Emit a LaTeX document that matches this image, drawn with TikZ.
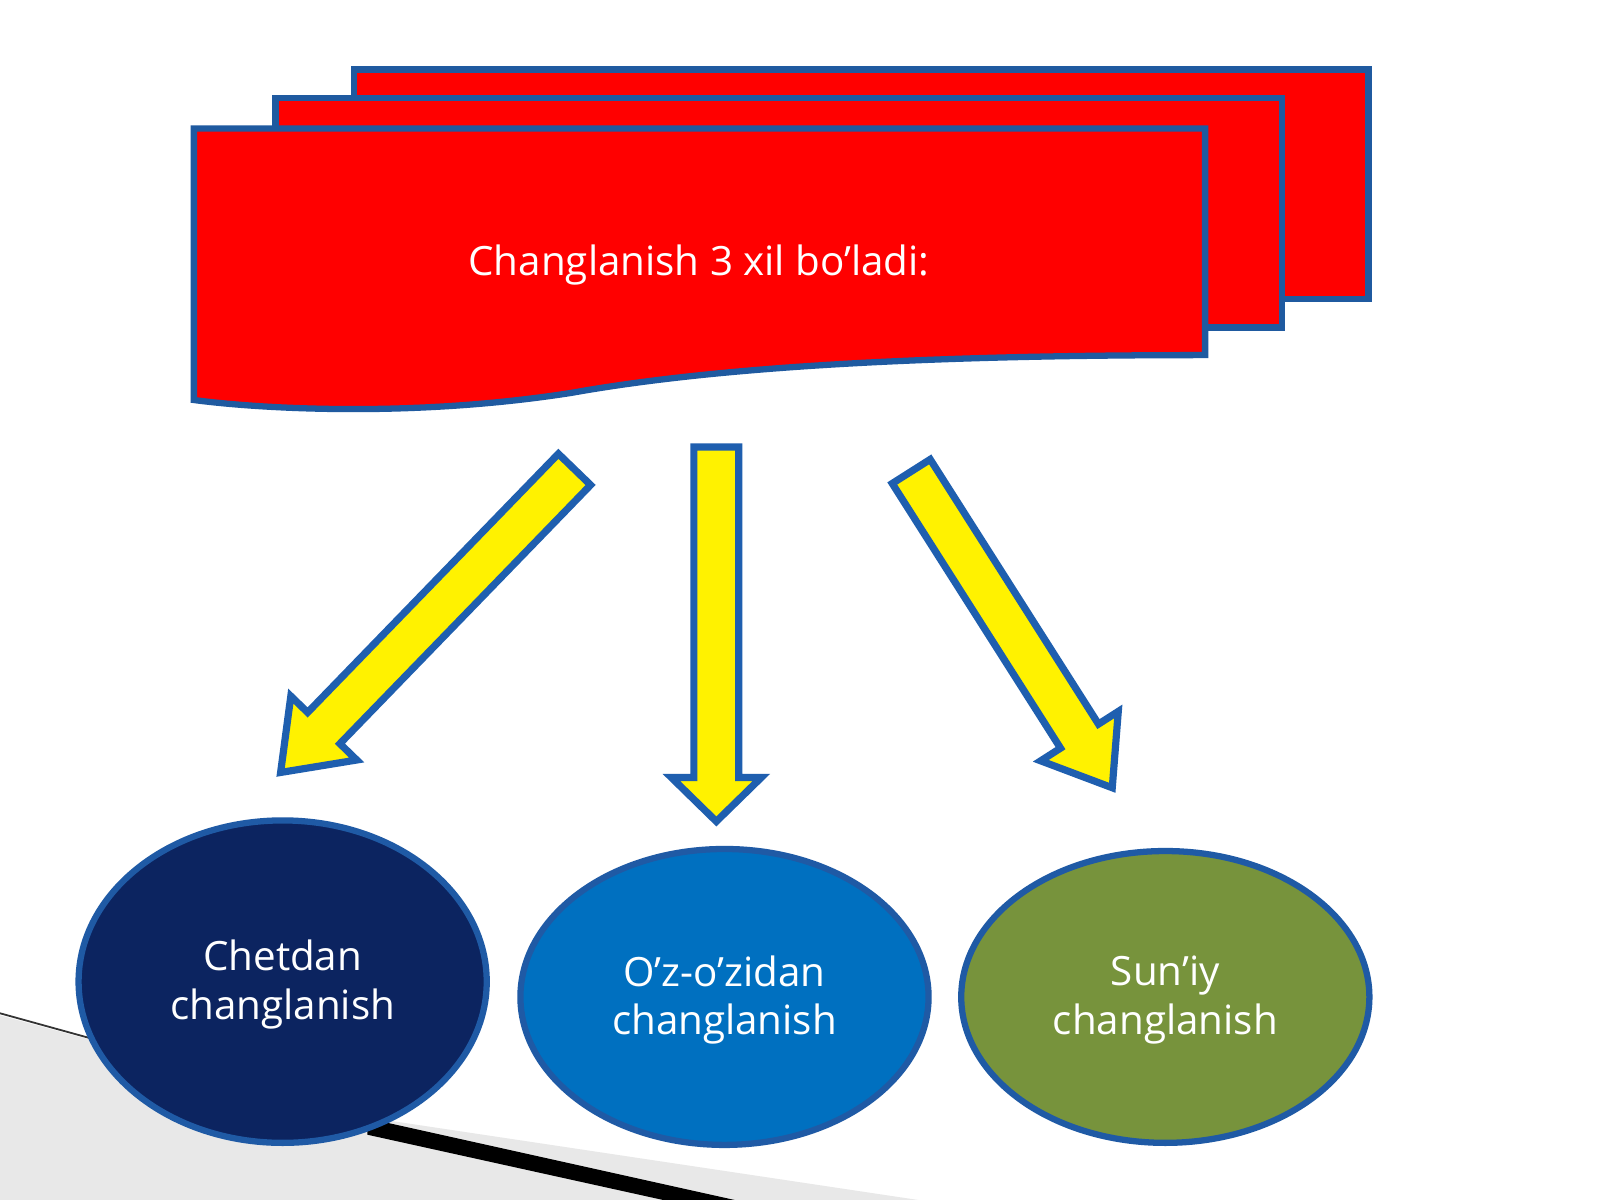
\documentclass[tikz,border=0pt]{standalone}
\usepackage{fontspec}
\setmainfont{Open Sans}
\begin{document}
\begin{tikzpicture}[x=0.02cm,y=-0.02cm,
  card/.style={fill=red,draw={rgb,255:red,31;green,90;blue,160},line width=3.5pt},
  barrow/.style={fill=yellow,draw={rgb,255:red,31;green,95;blue,175},line width=4pt,line join=miter},
  oval/.style={draw={rgb,255:red,31;green,90;blue,165},line width=3.5pt},
  lbl/.style={text=white,align=center,font=\fontsize{22.5}{27}\selectfont}]
\useasboundingbox (0,0) rectangle (1568,1176);
\fill[white] (0,0) rectangle (1568,1176);
% background decoration
\fill[gray!18] (0,995) -- (380,1098) -- (900,1176) -- (0,1176) -- cycle;
\draw[black!80,line width=1pt] (0,993) -- (380,1098);
\fill[black] (360,1096) -- (720,1176) -- (650,1176) -- (360,1112) -- cycle;
% cards
\draw[card] (347,68) rectangle (1341,293);
\draw[card] (270,96) rectangle (1256,321);
\draw[card] (190,126) -- (1181,126) -- (1181,348) .. controls (900,348) and (700,360) .. (560,385) .. controls (400,410) and (250,400) .. (190,392) -- cycle;
\node[lbl] (title) at (685,260) {Changlanish 3 xil bo’ladi:};
% arrows
\draw[barrow] (578.8,475.3) -- (547.2,444.7) -- (301.5,698.2) -- (285,682.2) -- (275,757) -- (349.6,744.8) -- (333.1,728.8) -- cycle;
\draw[barrow] (680,438) -- (724,438) -- (724,762) -- (746,762) -- (702,805) -- (658,762) -- (680,762) -- cycle;
\draw[barrow] (911.6,450.2) -- (874.4,473.8) -- (1039.3,733.2) -- (1019.9,745.6) -- (1090,772) -- (1095.9,697.2) -- (1076.5,709.6) -- cycle;
% ellipses
\draw[oval,fill={rgb,255:red,12;green,36;blue,96}] (277,962) ellipse [x radius=200,y radius=158];
\draw[oval,fill={rgb,255:red,0;green,112;blue,192}] (710,977) ellipse [x radius=200,y radius=145];
\draw[oval,fill={rgb,255:red,119;green,147;blue,60}] (1142,977) ellipse [x radius=200,y radius=143];
\node[lbl] (e1) at (277,965) {Chetdan\\changlanish};
\node[lbl] (e2) at (710,980) {O’z-o’zidan\\changlanish};
\node[lbl] (e3) at (1142,980) {Sun’iy\\changlanish};
\end{tikzpicture}
\end{document}
